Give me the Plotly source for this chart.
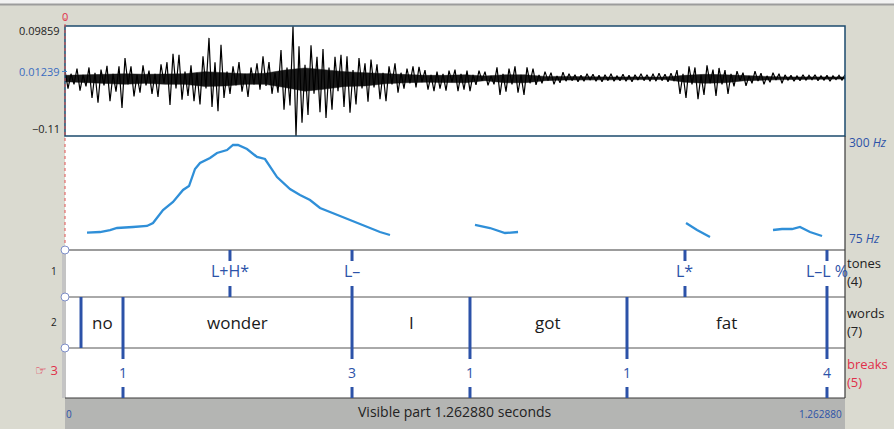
import plotly.graph_objects as go

# ---------------- data ----------------
DURATION = 1.26288  # seconds visible

# waveform peaks (alternating maxima / minima), in thousandths of amplitude units
wave_peaks_milli = [
    14, -20, 8, -12, 18, -24, 6, -16, 20,
    -38, 10, -47, 16, -14, 23, -44, 8, -26, 22,
    -57, 38, -12,
    22, -35, 6, -28, 24, -14, 14, -30, 8, -36, 26, -10, 30,
    -51, 46, -20, 44,
    -41, 12, -34, 24, -44, 10,
    -50, 41, -20, 76, -55, 30, -63, 63,
    -38, 12, -30, 22, -14, 30, -26, 8, -36, 20, -12, 28, -22,
    41, -15, 30, -30, 10, -28,
    53, -60, 20, -52,
    98, -110,
    60, -85, 25, -70, 62, -30, 40, -65, 55,
    -76, 20, -60, 40, -25, 44, -55,
    41, -66, 15, -50, 38, -20, 28, -45,
    35, -18, 26, -40, 10, -44, 22, -12, 28,
    -28, 10, -20, 18, -10, 22, -18,
    21, -8, 15, -22, 6, -25, 12, -20, 8, -24, 14, -8, 16,
    -25, 8, -22, 14, -25, 6,
    -13, 14, -5, 12, -14, 4, -12,
    20, -32, 8, -26, 18, -12, 22, -28, 6, -32, 20, -10, 18,
    -13, 6, -10, 12, -5, 10, -12, 4, -9, 11,
    -6, 8, -5, 6, -7, 5, -6, 8, -4, 7, -6, 5, -7, 6, -5, 8, -6, 4, -5, 7,
    -6, 5, -7, 6, -4, 8, -5, 6, -6,
    8, -6, 9, -5, 7, -7, 9, -6,
    15, -30, 8, -38, 22, -12, 20, -40, 6, -32, 24, -10, 16, -34, 19, -12, 15, -30, 8,
    -16, 13, -5, 10, -15, 4, -10, 13, -6, 9, -12, 4, -8, 10, -4, 8, -10,
    6, -4, 5, -6, 4, -5, 6, -4, 5, -3, 6, -5, 4, -4, 5, -6, 4, -3, 5, -4, 6,
]
# solid dark core of the waveform (upper / lower extent), thousandths, evenly spaced
wave_core_upper = [5, 6, 7, 8, 7, 8, 8, 12, 10, 8, 9, 15, 19, 15, 12, 10, 8, 6, 5, 5,
                   6, 4, 6, 6, 3, 3, 2, 2, 2, 2, 2, 5, 7, 6, 4, 3, 2, 2, 2, 2]
wave_core_lower = [-7, -8, -10, -12, -10, -12, -12, -16, -15, -12, -12, -18, -25, -21, -16, -15,
                   -11, -9, -8, -8, -9, -5, -9, -9, -5, -4, -3, -3, -3, -3, -3, -8, -10,
                   -9, -5, -4, -3, -2, -2, -2]
wave_top, wave_bottom, wave_cursor_value = 0.09859, -0.11, 0.01239

# pitch contour (s, Hz); None separates voiced stretches
pitch_t = [0.0356, 0.0567, 0.0729, 0.0842, 0.1101, 0.1328, 0.1425, 0.1587, 0.1749,
           0.1911, 0.2008, 0.2105, 0.2186, 0.2348, 0.2461, 0.2623, 0.2720, 0.2801,
           0.2947, 0.3109, 0.3238, 0.3433, 0.3643, 0.3805, 0.3967, 0.4129, 0.4372,
           0.4614, 0.4857, 0.5100, 0.5262, None,
           0.6638, 0.6881, 0.7124, 0.7335, None,
           1.0055, 1.0233, 1.0443, None,
           1.1463, 1.1609, 1.1771, 1.1900, 1.2062, 1.2257]
pitch_hz = [109.4, 110.8, 114.8, 118.8, 120.8, 122.8, 128.8, 154.6, 170.6,
            194.5, 202.4, 236.3, 248.2, 258.2, 268.1, 274.1, 284.1, 284.1,
            276.1, 260.2, 256.2, 220.3, 196.5, 184.5, 174.6, 158.6, 146.7,
            134.7, 122.8, 110.8, 104.9, None,
            124.8, 118.8, 108.8, 110.8, None,
            128.8, 114.8, 100.9, None,
            114.8, 116.8, 116.8, 120.8, 110.8, 102.9]
pitch_min, pitch_max = 75, 300

tone_times = [0.2671, 0.4647, 1.0038, 1.2337]
tone_labels = ["L+H*", "L–", "L*", "L–L %"]

word_bounds = [0.0259, 0.0939, 0.4647, 0.6557, 0.9099, 1.2337]
word_labels = ["no", "wonder", "I", "got", "fat"]

break_times = [0.0939, 0.4647, 0.6557, 0.9099, 1.2337]
break_labels = ["1", "3", "1", "1", "4"]

tier_names = ["tones", "words", "breaks"]
tier_counts = [4, 7, 5]

# ---------------- layout helpers ----------------
W, H = 894, 429
L, R = 65, 845
def px(x): return x / W
def py(y): return 1 - y / H

BEIGE = "#dadad0"
BLUE = "#2c52a8"
NAVY = "#1d4b6e"
RED = "#e0304a"
FONT = "Open Sans"

fig = go.Figure()

# waveform core band
m = len(wave_core_upper)
core_t = [i * DURATION / (m - 1) for i in range(m)]
fig.add_trace(go.Scatter(x=core_t + core_t[::-1],
                         y=[v / 1000 for v in wave_core_upper] + [v / 1000 for v in wave_core_lower[::-1]],
                         mode="lines", fill="toself", fillcolor="#1a1a1a",
                         line=dict(color="#1a1a1a", width=0.5), yaxis="y",
                         hoverinfo="skip", showlegend=False))
# waveform spikes
n = len(wave_peaks_milli)
wave_t = [i * DURATION / (n - 1) for i in range(n)]
wave_v = [v / 1000 for v in wave_peaks_milli]
fig.add_trace(go.Scatter(x=wave_t, y=wave_v, mode="lines",
                         line=dict(color="black", width=1.2), yaxis="y",
                         hoverinfo="skip", showlegend=False))
# pitch
fig.add_trace(go.Scatter(x=pitch_t, y=pitch_hz, mode="lines", connectgaps=False,
                         line=dict(color="#2f8fd8", width=2.3),
                         yaxis="y2", hoverinfo="skip", showlegend=False))

shapes = []
def rect(x0, y0, x1, y1, fill, layer="below", line=None):
    shapes.append(dict(type="rect", xref="paper", yref="paper",
                       x0=px(x0), x1=px(x1), y0=py(y1), y1=py(y0),
                       fillcolor=fill, line=line or dict(width=0), layer=layer))
def hline(x0, x1, y, color, width=1, dash=None, layer="above"):
    shapes.append(dict(type="line", xref="paper", yref="paper", x0=px(x0), x1=px(x1),
                       y0=py(y), y1=py(y), line=dict(color=color, width=width, dash=dash),
                       layer=layer))
def vline_paper(x, y0, y1, color, width=1, dash=None, layer="above"):
    shapes.append(dict(type="line", xref="paper", yref="paper", x0=px(x), x1=px(x),
                       y0=py(y0), y1=py(y1), line=dict(color=color, width=width, dash=dash),
                       layer=layer))
def vline_time(t, y0, y1, color=BLUE, width=3):
    shapes.append(dict(type="line", xref="x", yref="paper", x0=t, x1=t,
                       y0=py(y0), y1=py(y1), line=dict(color=color, width=width),
                       layer="above"))

# backgrounds
rect(0, 0, W, 4, "#f2f2f2")
hline(0, W, 4.5, "#9c9c9c", 2)
rect(L, 26, R, 398, "white")
rect(L, 398, R, H, "#b4b5b3")
rect(62, 250, 66, 398, "#c4c4c4")

# waveform box
shapes.append(dict(type="rect", xref="paper", yref="paper", x0=px(L), x1=px(R),
                   y0=py(136), y1=py(26), line=dict(color=NAVY, width=1.5),
                   fillcolor="rgba(0,0,0,0)", layer="above"))
shapes.append(dict(type="line", xref="paper", yref="y", x0=px(L), x1=px(R), y0=0, y1=0,
                   line=dict(color="#4a86c8", width=1, dash="dot"), layer="below"))
shapes.append(dict(type="line", xref="paper", yref="y", x0=px(L - 3), x1=px(L + 2),
                   y0=wave_cursor_value, y1=wave_cursor_value,
                   line=dict(color="#4a86c8", width=1), layer="above"))

# panel borders
hline(L, R, 250, "#3a3a3a", 1.2)
hline(L, R, 297, "#555555", 1)
hline(L, R, 348, "#555555", 1)
hline(L, R, 398, "#3a3a3a", 1.2)
vline_paper(R, 136, 398, "#3a3a3a", 1.2)
vline_paper(L, 18, 250, "#e05050", 1, dash="dot")

# tones tier (point tier)
for t in tone_times:
    vline_time(t, 250, 261)
    vline_time(t, 286, 297)
# words tier (interval tier)
for t in word_bounds:
    vline_time(t, 297, 348)
# breaks tier (point tier)
for t in break_times:
    vline_time(t, 348, 359)
    vline_time(t, 387, 398)

# tier handles
for y in (250, 297, 348):
    shapes.append(dict(type="circle", xref="paper", yref="paper",
                       x0=px(L - 4), x1=px(L + 4), y0=py(y + 4), y1=py(y - 4),
                       line=dict(color="#7f8fc8", width=1), fillcolor="white",
                       layer="above"))

ann = []
def text(x, y, s, size=12, color="black", xanchor="center", xref="paper", **kw):
    ann.append(dict(x=x if xref == "x" else px(x), y=py(y), xref=xref, yref="paper",
                    text=s, showarrow=False, xanchor=xanchor, yanchor="middle",
                    font=dict(size=size, color=color, family=FONT), **kw))

# waveform labels
text(62, 31, f"{wave_top:.5f}", 11, "#222222", "right")
text(62, 72, f"{wave_cursor_value:.5f}", 11, "#3a6cc0", "right")
text(62, 128, f"−{abs(wave_bottom):.2f}", 11, "#222222", "right")
text(65, 17, "0", 11, RED)
# pitch labels
text(847, 142, f"{pitch_max} <i>Hz</i>", 12, "#2c52a8", "left")
text(847, 238, f"{pitch_min} <i>Hz</i>", 12, "#2c52a8", "left")

# tier contents
for t, s in zip(tone_times, tone_labels):
    text(t, 271, s, 16, BLUE, xref="x")
for i, s in enumerate(word_labels):
    text((word_bounds[i] + word_bounds[i + 1]) / 2, 322, s, 17, "#1a1a1a", xref="x")
for t, s in zip(break_times, break_labels):
    text(t, 372, s, 14, BLUE, xref="x")

# tier numbers and names
text(59, 271, "1", 10, "#222222", "right")
text(59, 322, "2", 10, "#222222", "right")
text(60, 370, "☞ 3", 13, RED, "right")
tier_y = [263, 313, 364]
tier_col = ["#222222", "#222222", RED]
for name, cnt, y, c in zip(tier_names, tier_counts, tier_y, tier_col):
    text(845, y, name, 13, c, "left")
    text(845, y + 18, f"({cnt})", 13, c, "left")

# bottom bar
text(69, 414, "0", 10, "#2c52a8", "center")
text(455, 411, f"Visible part {DURATION:.6f} seconds", 14, "#222222")
text(844, 414, f"{DURATION:.6f}", 10, "#2c52a8", "right")

fig.update_layout(
    width=W, height=H, margin=dict(l=0, r=0, t=0, b=0),
    paper_bgcolor=BEIGE, plot_bgcolor="rgba(0,0,0,0)",
    showlegend=False, shapes=shapes, annotations=ann,
    xaxis=dict(domain=[px(L), px(R)], range=[0, DURATION], visible=False,
               fixedrange=True, anchor="y"),
    yaxis=dict(domain=[py(136), py(26)], range=[wave_bottom, wave_top],
               visible=False, fixedrange=True),
    yaxis2=dict(domain=[py(250), py(137)], range=[pitch_min, pitch_max],
                visible=False, fixedrange=True, anchor="x"),
)
fig.write_html("out.html")
